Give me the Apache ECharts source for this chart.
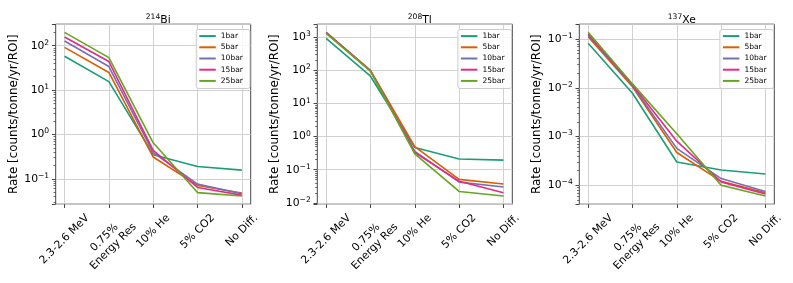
<!DOCTYPE html>
<html><head><meta charset="utf-8">
<script src="https://cdn.jsdelivr.net/npm/echarts@6/dist/echarts.min.js"></script>
<style>html,body{margin:0;padding:0;background:#fff}#c{width:793px;height:283px}</style>
</head><body><div id="c"></div>
<script>
// ---------------- data ----------------
const categories = ['2.3-2.6 MeV', '0.75%\nEnergy Res', '10% He', '5% CO2', 'No Diff.'];
const pressures = ['1bar', '5bar', '10bar', '15bar', '25bar'];
const isotopeMass = ['214', '208', '137'];
const isotopeName = ['Bi', 'Tl', 'Xe'];
const yLabel = 'Rate [counts/tonne/yr/ROI]';

// rows follow pressures, columns follow categories
const biRates = [
  [58, 15.5, 0.35, 0.19, 0.157],
  [92, 25, 0.31, 0.071, 0.048],
  [128, 34, 0.39, 0.076, 0.046],
  [157, 44, 0.44, 0.064, 0.043],
  [200, 54, 0.65, 0.049, 0.041]
];
const tlRates = [
  [930, 67, 0.47, 0.21, 0.195],
  [1420, 100, 0.5, 0.051, 0.037],
  [1400, 97, 0.36, 0.042, 0.030],
  [1400, 97, 0.33, 0.045, 0.020],
  [1330, 95, 0.30, 0.022, 0.016]
];
const xeRates = [
  [0.082, 0.0077, 3.0e-4, 2.05e-4, 1.7e-4],
  [0.111, 0.0105, 4.7e-4, 1.2e-4, 7.0e-5],
  [0.120, 0.011, 5.7e-4, 1.37e-4, 7.4e-5],
  [0.126, 0.0115, 8.0e-4, 1.17e-4, 6.6e-5],
  [0.137, 0.012, 1.14e-3, 1.0e-4, 6.0e-5]
];
const panelRates = [biRates, tlRates, xeRates];

// ---------------- style ----------------
const colors = ['#1b9e77', '#d95f02', '#7570b3', '#e7298a', '#66a61e'];
const FONT = 'DejaVu Sans';
const gridColor = '#cccccc';
const frameColor = '#333333';
const panelLeft = [55.7, 317.3, 579.3];
const frameW = 195, frameH = 180, frameTop = 24.2;
const innerPad = frameW * 0.2 / 4.4;
const TICK_FS = 10.8;

function logRange(rows) {
  const all = rows.flat();
  const lo = Math.log10(Math.min(...all)), hi = Math.log10(Math.max(...all));
  const m = 0.05 * (hi - lo);
  return [lo - m, hi + m];
}

const cv = document.createElement('canvas').getContext('2d');
cv.font = TICK_FS + 'px "' + FONT + '"';
const LH = 12.6;
const xRich = {};
categories.forEach((c, i) => {
  const lines = c.split('\n');
  const W = Math.max(...lines.map(l => cv.measureText(l).width));
  const H = lines.length * LH;
  const P = 0.5 * (W + H);
  lines.forEach((l, j) => {
    xRich['c' + i + '_' + j] = {
      fontSize: TICK_FS, height: LH, fontFamily: FONT, color: '#000',
      padding: [j === 0 ? P : 0, P, 0, 0]
    };
  });
});
function xFormatter(value) {
  const i = categories.indexOf(value);
  return value.split('\n').map((l, j) => '{c' + i + '_' + j + '|' + l + '}').join('\n');
}

function yFormatter(v) {
  const e = Math.log10(v);
  const r = Math.round(e);
  if (Math.abs(e - r) > 1e-6) return '';
  const s = r < 0 ? '\u2212' + (-r) : String(r);
  return '{b|10}{s|' + s + '}';
}
const yRich = {
  b: { fontSize: TICK_FS, lineHeight: 14, fontFamily: FONT, color: '#000' },
  s: { fontSize: 7.6, lineHeight: 6, fontFamily: FONT, color: '#000', verticalAlign: 'top' }
};

const option = {
  animation: false,
  textStyle: { fontFamily: FONT },
  title: [], legend: [], grid: [], xAxis: [], yAxis: [], series: []
};

panelRates.forEach((rows, p) => {
  const [lo, hi] = logRange(rows);
  const yMin = Math.pow(10, lo), yMax = Math.pow(10, hi);
  const left = panelLeft[p];
  option.grid.push({
    left: left, top: frameTop, width: frameW, height: frameH,
    show: true, borderColor: frameColor, borderWidth: 0.9, backgroundColor: 'transparent',
    containLabel: false, outerBoundsMode: 'none'
  });
  option.grid.push({
    left: left + innerPad, top: frameTop, width: frameW - 2 * innerPad, height: frameH,
    show: false, containLabel: false, outerBoundsMode: 'none'
  });
  const gOuter = 2 * p, gInner = 2 * p + 1;
  const xBase = option.xAxis.length;
  option.xAxis.push({ type: 'value', gridIndex: gOuter, min: 0, max: 1, show: false });
  option.xAxis.push({
    type: 'category', gridIndex: gInner, data: categories, boundaryGap: false,
    axisLine: { show: false },
    axisTick: { show: true, length: 3.8, lineStyle: { color: frameColor, width: 0.9 } },
    splitLine: { show: true, lineStyle: { color: gridColor, width: 0.9 } },
    axisLabel: {
      interval: 0, rotate: 45, align: 'center', verticalAlign: 'middle', margin: 7.6,
      fontSize: TICK_FS, color: '#000', fontFamily: FONT, hideOverlap: false,
      formatter: xFormatter, rich: xRich
    }
  });
  const yBase = option.yAxis.length;
  option.yAxis.push({
    type: 'log', gridIndex: gOuter, min: yMin, max: yMax, logBase: 10, position: 'left',
    axisLine: { show: false },
    axisTick: { show: true, length: 3.8, lineStyle: { color: frameColor, width: 0.9 } },
    splitLine: { show: true, lineStyle: { color: gridColor, width: 0.9 } },
    axisLabel: { formatter: yFormatter, rich: yRich, margin: 6.5, showMinLabel: true, showMaxLabel: true, hideOverlap: false },
    name: yLabel, nameLocation: 'middle', nameGap: 36,
    nameTextStyle: { fontSize: 11.9, color: '#000', fontFamily: FONT }
  });
  const minor = [];
  for (let e = Math.floor(lo); e <= Math.ceil(hi); e++) {
    for (let k = 2; k <= 9; k++) {
      const v = e + Math.log10(k);
      if (v > lo && v < hi) minor.push(v);
    }
  }
  option.yAxis.push({
    type: 'value', gridIndex: gOuter, min: lo, max: hi, position: 'left', offset: 0,
    axisLine: { show: false }, splitLine: { show: false },
    axisLabel: { show: false },
    axisTick: { show: true, length: 2.2, customValues: minor, lineStyle: { color: frameColor, width: 0.7 } }
  });
  option.yAxis.push({ type: 'log', gridIndex: gInner, min: yMin, max: yMax, logBase: 10, show: false });

  rows.forEach((vals, s) => {
    option.series.push({
      type: 'line', name: pressures[s], xAxisIndex: xBase + 1, yAxisIndex: yBase + 2,
      data: vals, showSymbol: false, symbol: 'none', color: colors[s],
      lineStyle: { width: 1.62, color: colors[s] }, emphasis: { disabled: true }
    });
  });

  option.title.push({
    text: '{s|' + isotopeMass[p] + '}{b|' + isotopeName[p] + '}',
    left: left + frameW / 2, top: 8.5, textAlign: 'center',
    textStyle: {
      fontWeight: 'normal',
      rich: {
        s: { fontSize: 7.6, lineHeight: 7, fontFamily: FONT, color: '#000', fontWeight: 'normal', verticalAlign: 'top' },
        b: { fontSize: 10.8, lineHeight: 14, fontFamily: FONT, color: '#000', fontWeight: 'normal' }
      }
    }
  });
  option.legend.push({
    data: pressures, orient: 'vertical',
    right: 793 - (left + frameW) + 0.8, top: frameTop + 5.3,
    icon: 'rect', itemWidth: 16.5, itemHeight: 2, itemGap: 0,
    backgroundColor: 'rgba(255,255,255,0.85)', borderColor: '#cccccc', borderWidth: 1, borderRadius: 2,
    padding: [1, 7, 2, 3],
    textStyle: { fontSize: 7.56, lineHeight: 11.2, color: '#000', fontFamily: FONT },
    selectedMode: false
  });
});

const chart = echarts.init(document.getElementById('c'), null, { renderer: 'canvas' });
chart.setOption(option);
</script></body></html>
